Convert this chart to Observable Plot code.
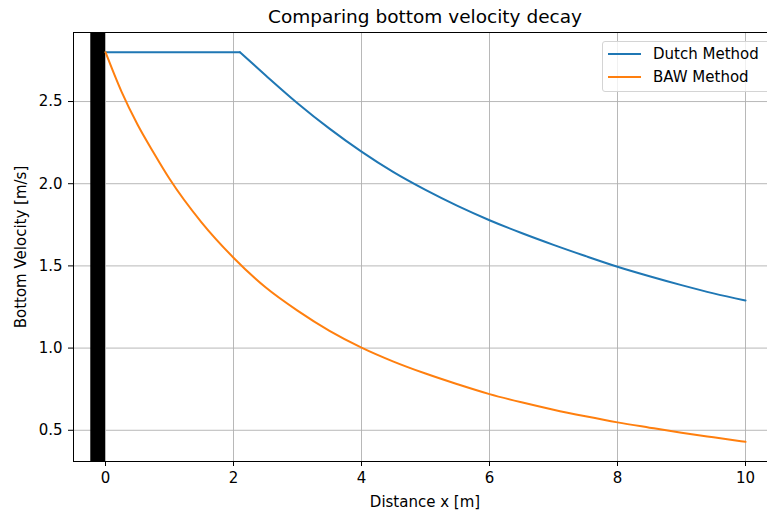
<!DOCTYPE html>
<html>
<head>
<meta charset="utf-8">
<script src="https://cdn.jsdelivr.net/npm/d3@7"></script>
<script src="https://cdn.jsdelivr.net/npm/@observablehq/plot@0.6"></script>
<style>
  html, body { margin: 0; padding: 0; background: #fff; overflow: hidden; }
  #fig { position: relative; width: 767px; height: 515px; overflow: hidden;
         font-family: "DejaVu Sans", sans-serif; color: #000; background: #fff; }
  #chart { position: absolute; left: 0; top: 0; width: 790px; height: 515px; }
  #chart svg { max-width: none !important; width: 790px; height: 515px; display: block; }
  .lbl { position: absolute; white-space: nowrap; line-height: 1; }
  #title { font-size: 18.5px; left: 425px; top: 8px; transform: translateX(-50%); }
  #xlabel { font-size: 15px; left: 425px; top: 495px; transform: translateX(-50%); }
  #ylabel { font-size: 15px; left: 21px; top: 246.5px; transform: translate(-50%, -50%) rotate(-90deg); }
  #legend { position: absolute; left: 602px; top: 40.5px; width: 175px; height: 51px;
            box-sizing: border-box; border: 1px solid #d4d4d4; border-radius: 3px;
            background: rgba(255,255,255,0.8); }
  .entry { position: absolute; left: 0; height: 16px; }
  .swatch { position: absolute; left: 5px; width: 33px; height: 2px; top: 7px; }
  .entry span { position: absolute; left: 50px; top: 0; font-size: 15px; line-height: 16px; white-space: nowrap; }
</style>
</head>
<body>
<div id="fig">
  <div id="chart"></div>
  <div id="title" class="lbl">Comparing bottom velocity decay</div>
  <div id="xlabel" class="lbl">Distance x [m]</div>
  <div id="ylabel" class="lbl">Bottom Velocity [m/s]</div>
  <div id="legend"></div>
</div>
<script>
// Axis ticks
const xTicks = [0, 2, 4, 6, 8, 10];
const yTicks = [0.5, 1.0, 1.5, 2.0, 2.5];

// Series names and colours
const seriesNames = ["Dutch Method", "BAW Method"];
const seriesColors = ["#1f77b4", "#ff7f0e"];

// Dutch method: constant velocity up to the end of the plateau, then decay
const dutchDistance = [0, 2.1, 2.5, 3, 3.5, 4, 4.5, 5, 5.5, 6, 6.5, 7, 7.5, 8, 8.5, 9, 9.5, 10];
const dutchVelocity = [2.8, 2.8, 2.66, 2.49, 2.335, 2.195, 2.07, 1.962, 1.865, 1.778, 1.70, 1.628, 1.56, 1.495, 1.437, 1.383, 1.333, 1.29];
const dutchPlateauEnd = 2.1;

// BAW method: decay starts right at the wall
const bawDistance = [0, 0.25, 0.5, 0.75, 1, 1.5, 2, 2.5, 3, 3.5, 4, 4.5, 5, 5.5, 6, 6.5, 7, 7.5, 8, 8.5, 9, 9.5, 10];
const bawVelocity = [2.8, 2.56, 2.36, 2.19, 2.03, 1.765, 1.55, 1.37, 1.228, 1.105, 1.003, 0.918, 0.845, 0.78, 0.72, 0.67, 0.625, 0.585, 0.548, 0.516, 0.485, 0.457, 0.43];

// Quay wall band (distance range)
const wallStart = -0.23;
const wallEnd = 0;

const dutchRows = [];
dutchDistance.forEach((d, i) => {
  if (d <= dutchPlateauEnd) dutchRows.push({x: d, v: dutchVelocity[i], part: "plateau"});
  if (d >= dutchPlateauEnd) dutchRows.push({x: d, v: dutchVelocity[i], part: "decay"});
});
const bawRows = bawDistance.map((d, i) => ({x: d, v: bawVelocity[i]}));

const chart = Plot.plot({
  width: 790,
  height: 515,
  marginLeft: 73,
  marginRight: 13,
  marginTop: 32,
  marginBottom: 54,
  style: {fontFamily: "DejaVu Sans", fontSize: "15px", background: "white", color: "black"},
  x: {domain: [-0.5, 10.5]},
  y: {domain: [0.31, 2.92]},
  marks: [
    Plot.gridX(xTicks, {stroke: "#b0b0b0", strokeOpacity: 1, strokeWidth: 0.9}),
    Plot.gridY(yTicks, {stroke: "#b0b0b0", strokeOpacity: 1, strokeWidth: 0.9}),
    Plot.rect([{x1: wallStart, x2: wallEnd}], {x1: "x1", x2: "x2", fill: "black"}),
    Plot.line(dutchRows, {x: "x", y: "v", z: "part", stroke: seriesColors[0], strokeWidth: 2, curve: "monotone-x"}),
    Plot.line(bawRows, {x: "x", y: "v", stroke: seriesColors[1], strokeWidth: 2, curve: "monotone-x"}),
    Plot.frame({stroke: "black", strokeWidth: 1}),
    Plot.axisX(xTicks, {tickSize: 5, tickPadding: 6, label: null, stroke: "black"}),
    Plot.axisY(yTicks, {tickSize: 5, tickPadding: 6, label: null, stroke: "black", tickFormat: d => d.toFixed(1)})
  ]
});
document.getElementById("chart").appendChild(chart);

// Legend
const legend = document.getElementById("legend");
seriesNames.forEach((name, i) => {
  const entry = document.createElement("div");
  entry.className = "entry";
  entry.style.top = (4.5 + i * 23.4) + "px";
  const sw = document.createElement("div");
  sw.className = "swatch";
  sw.style.background = seriesColors[i];
  const label = document.createElement("span");
  label.textContent = name;
  entry.appendChild(sw);
  entry.appendChild(label);
  legend.appendChild(entry);
});
</script>
</body>
</html>
